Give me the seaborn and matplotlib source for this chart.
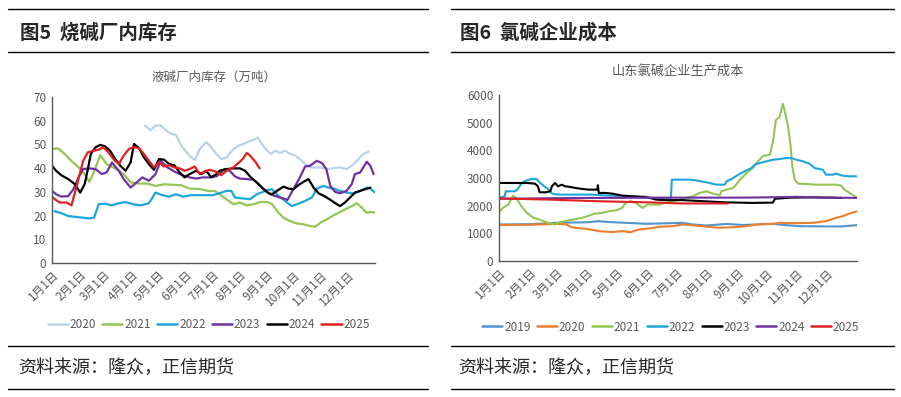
"""图5 烧碱厂内库存 / 图6 氯碱企业成本 — seasonal line charts."""

import numpy as np
import pandas as pd
import matplotlib

matplotlib.use("Agg")
import matplotlib.pyplot as plt
from matplotlib.lines import Line2D
import seaborn as sns

# x axis: day of year, labelled at month starts
MONTH_STARTS = [0, 31, 59, 90, 120, 151, 181, 212, 243, 273, 304, 334, 365]
MONTH_LABELS = ["1月1日", "2月1日", "3月1日", "4月1日", "5月1日", "6月1日",
                "7月1日", "8月1日", "9月1日", "10月1日", "11月1日", "12月1日", ""]

# ---- left panel: 液碱厂内库存（万吨）, positions in months from 1月1日 ----
INV_YEARS = ["2020", "2021", "2022", "2023", "2024", "2025"]

INV_2020_POS = [3.5, 3.71, 3.9, 4.09, 4.28, 4.46, 4.65, 4.84, 5.03, 5.21, 5.36, 5.53, 5.78,
                5.96, 6.15, 6.33, 6.52, 6.77, 6.95, 7.14, 7.32, 7.51, 7.65, 7.81, 8.0, 8.15,
                8.31, 8.49, 8.68, 8.86, 9.05, 9.23, 9.42, 9.6, 9.79, 9.98, 10.22, 10.47,
                10.72, 10.96, 11.15, 11.33, 11.58, 11.77]
INV_2020_VAL = [58, 56, 58, 58, 56, 54.5, 54, 49.5, 46.7, 44.5, 43.5, 48, 51,
                48.8, 46, 43.8, 44.5, 48, 49.5, 50.2, 51.2, 52, 53, 50.2, 47.4, 46,
                47.4, 46.4, 47.4, 46, 45.3, 43.8, 41.7, 40.3, 40.3, 40.3, 39.6, 40,
                40.3, 39.6, 41, 43, 46, 47]

INV_2021_POS = [0, 0.21, 0.46, 0.71, 0.96, 1.21, 1.4, 1.59, 1.84, 2.09, 2.4, 2.71, 2.96,
                3.28, 3.59, 3.9, 4.21, 4.53, 4.84, 5.15, 5.53, 5.84, 6.09, 6.27, 6.52,
                6.77, 7.01, 7.26, 7.51, 7.75, 8.0, 8.19, 8.43, 8.62, 8.86, 9.11, 9.36,
                9.6, 9.79, 9.98, 10.22, 10.47, 10.72, 10.96, 11.21, 11.33, 11.52, 11.7,
                11.89, 12.0]
INV_2021_VAL = [48, 48.4, 46, 43, 40.5, 37.5, 34.2, 38.5, 45.5, 41.7, 39.9, 37.5, 34,
                33.5, 33.5, 32.5, 33.2, 33, 32.8, 31.4, 31.2, 30.4, 30.4, 29, 26.9,
                24.8, 25.5, 24.3, 24.8, 25.7, 25.7, 24.8, 21.2, 19.1, 17.7, 16.7, 16.3,
                15.6, 15.3, 17, 18.4, 20.1, 21.5, 22.9, 24.3, 25.2, 23.3, 21.2,
                21.5, 21.2]

INV_2022_POS = [0.09, 0.34, 0.59, 0.9, 1.15, 1.4, 1.59, 1.78, 2.03, 2.28, 2.53, 2.78,
                3.09, 3.34, 3.65, 3.9, 4.15, 4.4, 4.65, 4.9, 5.21, 5.53, 5.84, 6.02,
                6.27, 6.52, 6.7, 6.83, 7.14, 7.38, 7.63, 8.0, 8.19, 8.43, 8.68, 8.93,
                9.17, 9.42, 9.67, 9.85, 10.1, 10.28, 10.47, 10.72, 10.96, 11.21, 11.46,
                11.7, 11.83, 12.0]
INV_2022_VAL = [21.9, 21, 19.8, 19.4, 19.1, 18.8, 19.1, 24.8, 25, 24.3, 25.2, 25.7,
                24.7, 24.3, 25.2, 29.7, 28.6, 28, 29, 28, 28.6, 28.6, 28.6, 28.6,
                29.4, 30.4, 30.4, 27.6, 27.2, 26.9, 29, 30.7, 31.1, 28.3, 26.2, 24,
                25, 26.2, 27.6, 31.4, 32.5, 31.8, 31.4, 30.4, 29.7, 29.3, 30.4,
                31.8, 31.4, 29.7]

INV_2023_POS = [0, 0.15, 0.34, 0.59, 0.78, 0.96, 1.15, 1.4, 1.65, 1.9, 2.09, 2.28, 2.53,
                2.71, 2.96, 3.21, 3.4, 3.65, 3.9, 4.09, 4.34, 4.65, 4.9, 5.15, 5.4, 5.65,
                5.9, 6.15, 6.46, 6.64, 6.83, 7.01, 7.26, 7.51, 7.69, 7.88, 8.12, 8.37,
                8.62, 8.77, 8.99, 9.23, 9.42, 9.6, 9.85, 10.04, 10.2, 10.35, 10.53,
                10.72, 10.96, 11.15, 11.27, 11.46, 11.7, 11.83, 11.95]
INV_2023_VAL = [30.4, 29, 28, 28.2, 31.1, 36, 39.6, 39.9, 39.6, 37.5, 38.2, 42.4, 38.9,
                35.4, 31.8, 34.2, 36.1, 34.7, 37.5, 43.1, 40.3, 38.2, 37, 36.1, 35.6, 36.1,
                36.1, 36.5, 39.6, 38.9, 36.5, 35.6, 35.4, 35.1, 33.2, 31.1, 29, 28,
                27.2, 26.6, 31.1, 36.1, 40.7, 41, 43.1, 42.1, 39.6, 32.5, 30,
                29.4, 30.4, 33.2, 37.5, 38.2, 42.7, 41, 37.5]

INV_2024_POS = [0, 0.15, 0.34, 0.59, 0.84, 1.03, 1.21, 1.34, 1.46, 1.65, 1.84, 2.03, 2.21,
                2.4, 2.59, 2.78, 2.96, 3.09, 3.28, 3.46, 3.65, 3.84, 4.03, 4.21, 4.4,
                4.59, 4.78, 4.96, 5.15, 5.4, 5.59, 5.78, 5.96, 6.15, 6.27, 6.52, 6.77,
                7.01, 7.2, 7.38, 7.63, 7.88, 8.06, 8.19, 8.37, 8.62, 8.8, 8.99, 9.17,
                9.36, 9.54, 9.73, 9.91, 10.16, 10.41, 10.59, 10.72, 10.9, 11.09, 11.27,
                11.46, 11.64, 11.83]
INV_2024_VAL = [41, 38.9, 37, 35.4, 33.2, 29.7, 33.2, 39.6, 46, 48.8, 49.8, 49.2, 47.4,
                43.8, 41, 38.9, 42.4, 50.2, 48.4, 44.6, 41.7, 39.3, 43.8, 43.6, 41.7,
                41.2, 38.2, 36.1, 37.5, 38.9, 37.5, 38.9, 36.1, 37.5, 38.9, 39.6, 39.9,
                39.9, 38.9, 36.5, 33.9, 31.1, 29.4, 29, 30.4, 32.2, 31.4, 31.1, 32.8,
                34.2, 35.4, 31.8, 29.4, 28, 26.2, 24.8, 24, 25.5, 27.6, 29.7,
                30.4, 31.1, 31.8]

INV_2025_POS = [0, 0.09, 0.28, 0.53, 0.71, 0.9, 1.15, 1.34, 1.59, 1.78, 1.96, 2.15, 2.34,
                2.53, 2.71, 2.9, 3.09, 3.28, 3.46, 3.65, 3.84, 4.03, 4.21, 4.4, 4.59,
                4.78, 4.96, 5.15, 5.34, 5.53, 5.71, 5.9, 6.15, 6.33, 6.52, 6.77, 6.95,
                7.11, 7.26, 7.38, 7.57, 7.73]
INV_2025_VAL = [28, 27, 25.5, 25.5, 24.3, 32.5, 43.1, 46.7, 47.4, 47.8, 48.8, 46.7, 43.8,
                41.7, 45.3, 48.1, 48.8, 48.4, 46, 43.1, 40.3, 42.4, 40.7, 41.2, 40.3,
                39.9, 38.9, 39.6, 40.7, 37.5, 38.5, 39.3, 38.5, 37, 38.9, 40.3, 42.1,
                43.8, 46.4, 45.3, 42.7, 39.9]

# ---- right panel: 山东氯碱企业生产成本 ----
COST_YEARS = ["2019", "2020", "2021", "2022", "2023", "2024", "2025"]

COST_2019_POS = [0, 1, 2, 3, 3.4, 3.7, 4.3, 4.97, 5.42, 6.2, 6.53, 6.98, 7.64, 8.2, 8.64,
                 9.2, 9.76, 10.09, 10.87, 11.5, 12.0]
COST_2019_VAL = [1320, 1330, 1380, 1400, 1440, 1410, 1380, 1344, 1356, 1380, 1320, 1284,
                 1340, 1300, 1320, 1344, 1284, 1260, 1250, 1250, 1296]

COST_2020_POS = [0, 1.0, 2.0, 2.3, 2.45, 2.61, 3.0, 3.39, 3.84, 4.2, 4.45, 4.74, 5.09,
                 5.42, 5.87, 6.2, 6.53, 6.98, 7.42, 7.87, 8.31, 8.64, 9.2, 9.42, 9.76,
                 10.2, 10.53, 10.98, 11.31, 11.53, 11.76, 12.0]
COST_2020_VAL = [1300, 1310, 1340, 1330, 1230, 1200, 1160, 1080, 1044, 1080, 1040, 1140,
                 1180, 1236, 1260, 1320, 1290, 1240, 1200, 1220, 1260, 1320, 1344, 1380,
                 1370, 1370, 1380, 1440, 1560, 1620, 1716, 1800]

COST_2021_POS = [0, 0.13, 0.3, 0.47, 0.58, 0.75, 0.92, 1.15, 1.37, 1.6, 1.82, 1.93, 2.04,
                 2.27, 2.55, 2.83, 3.06, 3.28, 3.51, 3.73, 4.01, 4.18, 4.29, 4.46, 4.63,
                 4.74, 4.85, 5.02, 5.2, 5.42, 5.8, 6.2, 6.53, 6.76, 6.98, 7.2, 7.42,
                 7.48, 7.64, 7.87, 8.09, 8.31, 8.53, 8.7, 8.87, 9.1, 9.2, 9.3, 9.42,
                 9.53, 9.62, 9.7, 9.78, 9.84, 9.92, 10.03, 10.31, 10.64, 10.98, 11.31,
                 11.48, 11.59, 11.76, 11.92, 12.0]
COST_2021_VAL = [1764, 1920, 2040, 2364, 2250, 1956, 1740, 1560, 1500, 1404, 1356, 1320,
                 1380, 1440, 1500, 1560, 1644, 1716, 1740, 1800, 1836, 1920, 2100, 2160,
                 2100, 2004, 1920, 2040, 2040, 2040, 2150, 2250, 2340, 2460, 2520, 2436,
                 2380, 2520, 2580, 2640, 2940, 3180, 3360, 3600, 3800, 3840, 4300, 5100,
                 5200, 5680, 5280, 4860, 4200, 3420, 2940, 2796, 2784, 2760, 2760, 2760,
                 2724, 2580, 2460, 2340, 2280]

COST_2022_POS = [0, 0.19, 0.22, 0.53, 0.6, 0.75, 0.92, 1.09, 1.26, 1.37, 1.54, 1.71, 1.82,
                 2.04, 2.61, 3.17, 3.73, 4.29, 4.85, 5.42, 5.81, 5.84, 6.09, 6.42, 6.64,
                 6.98, 7.31, 7.59, 7.64, 7.81, 7.98, 8.14, 8.31, 8.48, 8.59, 8.76, 8.98,
                 9.2, 9.42, 9.64, 9.81, 9.98, 10.2, 10.42, 10.59, 10.87, 10.98, 11.2,
                 11.31, 11.53, 11.76, 12.0]
COST_2022_VAL = [2280, 2340, 2520, 2520, 2580, 2820, 2916, 2964, 2964, 2844, 2700, 2580,
                 2436, 2400, 2400, 2400, 2364, 2340, 2280, 2280, 2280, 2940, 2940, 2940,
                 2916, 2844, 2760, 2760, 2880, 2964, 3084, 3180, 3276, 3360, 3480, 3540,
                 3600, 3660, 3684, 3720, 3720, 3660, 3600, 3516, 3360, 3300, 3120, 3120,
                 3156, 3084, 3060, 3060]

COST_2023_POS = [0, 0.92, 1.2, 1.31, 1.37, 1.6, 1.76, 1.82, 1.93, 2.04, 2.16, 2.27, 2.44,
                 2.61, 2.83, 3.06, 3.34, 3.36, 3.39, 3.62, 3.84, 4.18, 4.52, 4.97, 5.3,
                 5.6, 6.2, 6.9, 7.6, 8.5, 9.2, 9.27, 9.8, 10.5, 11.2, 11.5]
COST_2023_VAL = [2820, 2820, 2796, 2700, 2484, 2484, 2520, 2700, 2820, 2700, 2760, 2700,
                 2676, 2640, 2604, 2580, 2580, 2740, 2460, 2460, 2436, 2364, 2340, 2316,
                 2220, 2200, 2200, 2160, 2120, 2100, 2110, 2250, 2290, 2300, 2290, 2280]

COST_2024_POS = [0, 1, 2, 3, 4, 5, 6, 7, 8, 9, 9.5, 10, 10.5, 11, 12]
COST_2024_VAL = [2250, 2260, 2270, 2280, 2280, 2290, 2290, 2290, 2290, 2300, 2310, 2320,
                 2300, 2290, 2280]

COST_2025_POS = [0, 1.7, 3.37, 5.06, 6.18, 7.69]
COST_2025_VAL = [2260, 2220, 2160, 2120, 2080, 2080]

INV_COLORS = {"2020": "#B8D3E6", "2021": "#92C555", "2022": "#1DA6DB",
              "2023": "#7030A0", "2024": "#000000", "2025": "#E02020"}
COST_COLORS = {"2019": "#4F94CD", "2020": "#ED7D31", "2021": "#92C555",
               "2022": "#1DA6DB", "2023": "#000000", "2024": "#7030A0", "2025": "#E02020"}

GRAY = "#595959"


def _long_frame(years, series):
    rows = []
    for year, (pos, val) in zip(years, series):
        days = np.interp(pos, np.arange(13), MONTH_STARTS)
        rows.append(pd.DataFrame({"day": days, "value": val, "year": year}))
    return pd.concat(rows, ignore_index=True)


def _style_axes(ax, ymax, ystep):
    ax.set_xlim(0, 365)
    ax.set_ylim(0, ymax)
    ax.set_xticks(MONTH_STARTS)
    ax.set_xticklabels(MONTH_LABELS, rotation=45, ha="right", rotation_mode="anchor",
                       fontsize=8.5, color=GRAY)
    ax.set_yticks(np.arange(0, ymax + 1, ystep))
    ax.tick_params(axis="y", labelsize=8.5, labelcolor=GRAY)
    ax.tick_params(direction="in", length=4, width=0.8, color=GRAY, pad=4)
    ax.set_xlabel("")
    ax.set_ylabel("")
    for side in ("top", "right"):
        ax.spines[side].set_visible(False)
    for side in ("left", "bottom"):
        ax.spines[side].set_color(GRAY)
        ax.spines[side].set_linewidth(1.0)


sns.set_theme(style="white")
plt.rcParams["font.family"] = ["Noto Sans CJK SC", "DejaVu Sans"]
plt.rcParams["axes.unicode_minus"] = False

W, H = 901, 397
fig = plt.figure(figsize=(W / 100, H / 100), dpi=100)
fig.patch.set_facecolor("white")

ax1 = fig.add_axes([52 / W, 1 - 263 / H, 323 / W, 166 / H])
ax2 = fig.add_axes([499 / W, 1 - 261 / H, 358 / W, 166 / H])

inv_df = _long_frame(INV_YEARS, [
    (INV_2020_POS, INV_2020_VAL), (INV_2021_POS, INV_2021_VAL),
    (INV_2022_POS, INV_2022_VAL), (INV_2023_POS, INV_2023_VAL),
    (INV_2024_POS, INV_2024_VAL), (INV_2025_POS, INV_2025_VAL)])
cost_df = _long_frame(COST_YEARS, [
    (COST_2019_POS, COST_2019_VAL), (COST_2020_POS, COST_2020_VAL),
    (COST_2021_POS, COST_2021_VAL), (COST_2022_POS, COST_2022_VAL),
    (COST_2023_POS, COST_2023_VAL), (COST_2024_POS, COST_2024_VAL),
    (COST_2025_POS, COST_2025_VAL)])

sns.lineplot(data=inv_df, x="day", y="value", hue="year", hue_order=INV_YEARS,
             palette=INV_COLORS, estimator=None, linewidth=1.6, ax=ax1)
sns.lineplot(data=cost_df, x="day", y="value", hue="year", hue_order=COST_YEARS,
             palette=COST_COLORS, estimator=None, linewidth=1.5, ax=ax2)

_style_axes(ax1, 70, 10)
_style_axes(ax2, 6000, 1000)

ax1.set_title("液碱厂内库存（万吨）", fontsize=9, color=GRAY, pad=12)
ax2.set_title("山东氯碱企业生产成本", fontsize=9.5, color=GRAY, pad=14)

for ax, x, y in ((ax1, 0.485, -0.373), (ax2, 0.48, -0.398)):
    sns.move_legend(ax, "center", bbox_to_anchor=(x, y), ncol=7, frameon=False,
                    title=None, fontsize=8.5, handlelength=1.7, handletextpad=0.15,
                    columnspacing=0.55)
    for txt in ax.get_legend().get_texts():
        txt.set_color(GRAY)
    for line in ax.get_legend().get_lines():
        line.set_linewidth(1.8)

# report-style header / footer rules
for x0, x1 in ((8, 428), (451, 894)):
    for y in (9, 52, 346, 389):
        fig.add_artist(Line2D([x0 / W, x1 / W], [1 - y / H, 1 - y / H],
                              color="black", linewidth=1.0))

fig.text(20 / W, 1 - 33 / H, "图5  烧碱厂内库存", fontsize=14, fontweight="bold",
         va="center", ha="left")
fig.text(460 / W, 1 - 33 / H, "图6  氯碱企业成本", fontsize=14, fontweight="bold",
         va="center", ha="left")
fig.text(18 / W, 1 - 368 / H, "资料来源：隆众，正信期货", fontsize=13,
         va="center", ha="left")
fig.text(458 / W, 1 - 368 / H, "资料来源：隆众，正信期货", fontsize=13,
         va="center", ha="left")

fig.savefig("out.png", dpi=100, facecolor="white")
plt.close(fig)
